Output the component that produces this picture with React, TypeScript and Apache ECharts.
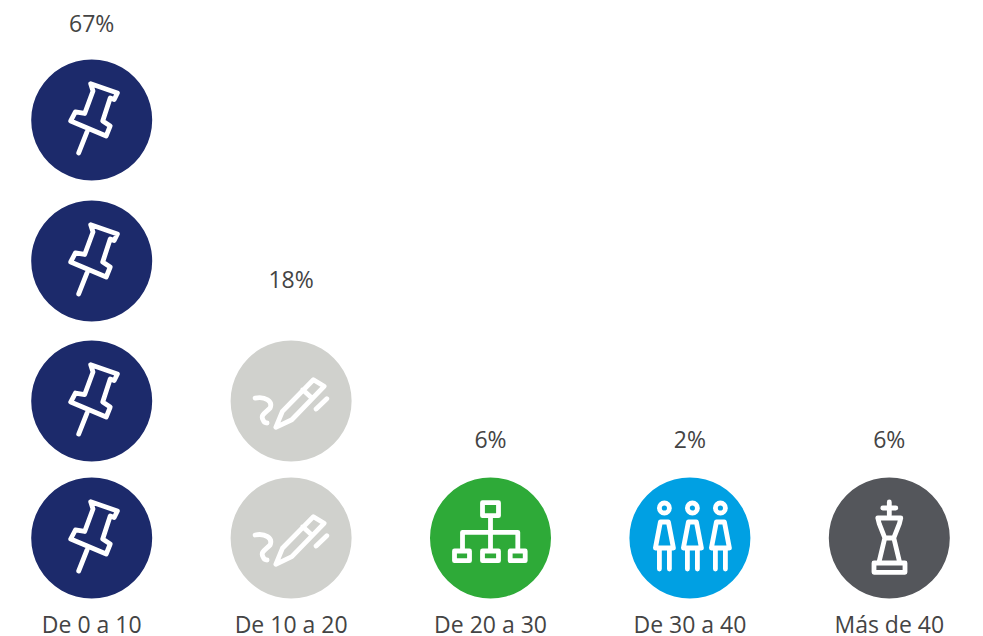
import React, { useEffect, useRef } from "react";
import * as echarts from "echarts";

const categories = ["De 0 a 10", "De 10 a 20", "De 20 a 30", "De 30 a 40", "Más de 40"];
const percentages = [67, 18, 6, 2, 6];
const iconCounts = [4, 2, 1, 1, 1];
const stackLevels = [0, 0.983, 1.988, 3];
const labelLevels = [3.696, 1.859, 0.71, 0.71, 0.71];
const colors = ["#1c2a6b", "#d0d1cd", "#2eaa38", "#00a0e3", "#54565b"];
const iconNames = ["iconPin", "iconPen", "iconOrg", "iconPeople", "iconKing"];

const personPath = (dx: number) =>
  `M${dx + 5},-30 A5,5 0 1 1 ${dx - 5},-30 A5,5 0 1 1 ${dx + 5},-30 Z ` +
  `M${dx - 4},-16 L${dx + 4},-16 L${dx + 9},10 L${dx - 9},10 Z ` +
  `M${dx - 5},10 L${dx - 5},31 M${dx + 5},10 L${dx + 5},31`;

const iconPaths: Record<string, string> = {
  iconPin:
    "M-1,-36.3 L25.7,-27 L22.5,-20.5 L18.5,-22 L11,1 L18.5,6 L14.5,16 L-21,1 L-16.3,-8 L-7,-6.5 L1.3,-29 Z M-4.7,12 L-13,33",
  iconPen:
    "M-15.3,26.3 L-8.7,10.3 L22.3,-21.3 L33,-14.7 L0.7,18.7 Z M11.7,-11.3 L20.7,-3 M25,8 L35.7,-2.3 " +
    "M-36,-3 C-26,-5 -18,0 -21,7 C-26,12 -31,14 -28,19 C-27,22 -25,22 -24,22",
  iconOrg:
    "M-8,-35.3 L8,-35.3 L8,-22.3 L-8,-22.3 Z M0,-22 L0,13 M-28,11 L-28,-5.7 L27.3,-5.7 L27.3,11 " +
    "M-36,13 L-21,13 L-21,22.7 L-36,22.7 Z M-8,13 L8,13 L8,22.7 L-8,22.7 Z M19.7,13 L34.7,13 L34.7,22.7 L19.7,22.7 Z",
  iconPeople: personPath(-25.5) + " " + personPath(2.5) + " " + personPath(30.5),
  iconKing:
    "M0,-36 L0,-23 M-6.5,-30 L6.5,-30 M-11.5,-20 L11.5,-20 L10,-14 L4.5,0 L10.5,25 " +
    "M-11.5,-20 L-10,-14 L-4.5,0 L-10.5,25 M-4.5,0 L4.5,0 M-15.3,25 L15.7,25 L15.7,34.3 L-15.3,34.3 Z",
};

Object.keys(iconPaths).forEach((name) => {
  echarts.graphic.registerShape(name, (echarts.graphic as any).extendPath(iconPaths[name], {}));
});

const FONT = '"Open Sans", sans-serif';
const TEXT_COLOR = "#444444";

export default function App() {
  const ref = useRef<HTMLDivElement>(null);

  useEffect(() => {
    const chart = echarts.init(ref.current!, undefined, { renderer: "svg" });

    const circleData: number[][] = [];
    categories.forEach((_, c) => {
      for (let i = 0; i < iconCounts[c]; i++) circleData.push([c, stackLevels[i]]);
    });
    const labelData = categories.map((_, c) => [c, labelLevels[c], percentages[c]]);

    chart.setOption({
      animation: false,
      backgroundColor: "#ffffff",
      grid: { left: 0, right: 0, top: 0, bottom: 36 },
      xAxis: {
        type: "category",
        data: categories,
        axisLine: { show: false },
        axisTick: { show: false },
        axisLabel: {
          fontFamily: FONT,
          fontSize: 23,
          fontWeight: 400,
          lineHeight: 23,
          color: TEXT_COLOR,
          margin: 12,
          interval: 0,
        },
      },
      yAxis: { type: "value", min: -0.445, max: 3.861, show: false, splitLine: { show: false } },
      series: [
        {
          type: "custom",
          silent: true,
          coordinateSystem: "cartesian2d",
          encode: { x: 0, y: 1 },
          data: circleData,
          renderItem: (_p: any, api: any) => {
            const c = api.value(0);
            const [x, y] = api.coord([c, api.value(1)]);
            return {
              type: "group",
              x,
              y,
              children: [
                { type: "circle", shape: { cx: 0, cy: 0, r: 60.5 }, style: { fill: colors[c] } },
                {
                  type: iconNames[c],
                  style: {
                    fill: "none",
                    stroke: "#ffffff",
                    lineWidth: 4.8,
                    lineCap: "round",
                    lineJoin: "round",
                  },
                },
              ],
            };
          },
        },
        {
          type: "custom",
          silent: true,
          coordinateSystem: "cartesian2d",
          encode: { x: 0, y: 1 },
          data: labelData,
          renderItem: (_p: any, api: any) => {
            const [x, y] = api.coord([api.value(0), api.value(1)]);
            return {
              type: "text",
              x,
              y,
              style: {
                text: api.value(2) + "%",
                fontFamily: FONT,
                fontSize: 23,
                fontWeight: 400,
                fill: TEXT_COLOR,
                align: "center",
                verticalAlign: "middle",
              },
            };
          },
        },
      ],
    });

    return () => chart.dispose();
  }, []);

  return (
    <div style={{ position: "absolute", left: 0, top: 0, width: 983, height: 636, overflow: "hidden" }}>
      <div ref={ref} style={{ position: "absolute", left: -8, top: 0, width: 997, height: 636 }} />
    </div>
  );
}
